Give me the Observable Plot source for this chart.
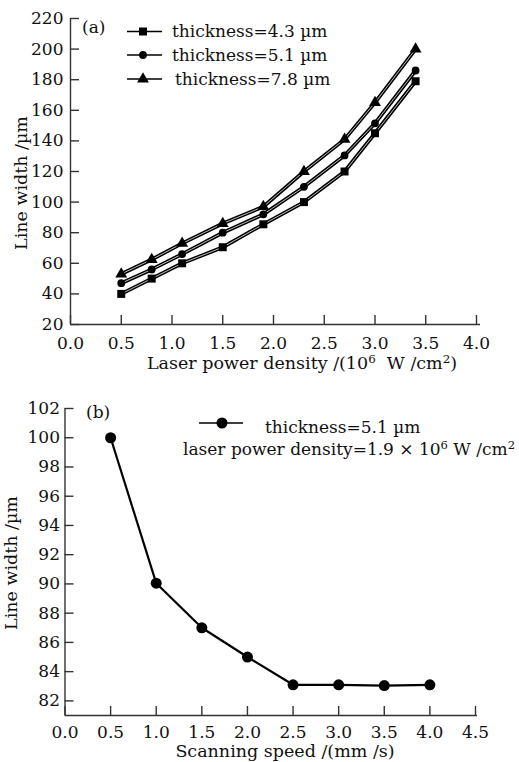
<!DOCTYPE html>
<html><head><meta charset="utf-8">
<script src="https://cdn.jsdelivr.net/npm/d3@7"></script>
<script src="https://cdn.jsdelivr.net/npm/@observablehq/plot@0.6"></script>
<style>body{margin:0;background:#fff;} svg{display:block;}</style>
</head><body><div id="root"></div>
<script>
// ---- Data (a) ----
const powerDensity = [0.5, 0.8, 1.1, 1.5, 1.9, 2.3, 2.7, 3.0, 3.4];
const width43 = [40, 50, 60, 70.5, 85.5, 100, 120, 145, 179];
const width51 = [47, 56, 66, 80, 92, 110, 130.5, 151.5, 186];
const width78 = [53, 62.5, 73, 86, 97, 120, 141, 165, 200];
const seriesLabels = ["thickness=4.3 µm", "thickness=5.1 µm", "thickness=7.8 µm"];
const seriesSymbols = ["square", "circle", "triangle"];
const xTicksA = [0, 0.5, 1, 1.5, 2, 2.5, 3, 3.5, 4];
const yTicksA = [20, 40, 60, 80, 100, 120, 140, 160, 180, 200, 220];

// ---- Data (b) ----
const scanSpeed = [0.5, 1.0, 1.5, 2.0, 2.5, 3.0, 3.5, 4.0];
const widthB = [100, 90.05, 87, 85, 83.1, 83.1, 83.05, 83.1];
const xTicksB = [0, 0.5, 1, 1.5, 2, 2.5, 3, 3.5, 4, 4.5];
const yTicksB = [82, 84, 86, 88, 90, 92, 94, 96, 98, 100, 102];

const FONT = "DejaVu Serif";
const FS = 17;
const W = 519;
const AX = "#333";

// ---------- Chart (a) ----------
const A = {h: 375, ml: 70, mr: 43, mt: 18, mb: 51};
const fhA = A.h - A.mt - A.mb, fwA = W - A.ml - A.mr;
const allA = [width43, width51, width78];
const rowsA = [];
seriesLabels.forEach((s, i) => powerDensity.forEach((x, j) => rowsA.push({series: s, x, y: allA[i][j]})));
const symR = {square: 4.5, circle: 3.9, triangle: 4.4};

const plotA = Plot.plot({
  width: W, height: A.h,
  marginLeft: A.ml, marginRight: A.mr, marginTop: A.mt, marginBottom: A.mb,
  x: {domain: [0, 4]},
  y: {domain: [20, 220]},
  symbol: {domain: seriesLabels, range: seriesSymbols},
  style: {fontFamily: FONT, fontSize: FS + "px", color: "#111", background: "#fff"},
  marks: [
    Plot.axisX({ticks: xTicksA, tickSize: 0, tickPadding: 12, tickFormat: d3.format(".1f"), label: null}),
    Plot.axisY({ticks: yTicksA, tickSize: 0, tickPadding: 7, label: null}),
    Plot.tickX(xTicksA, {x: d => d, insetTop: fhA - 9, stroke: AX, strokeWidth: 1.4}),
    Plot.tickY(yTicksA, {y: d => d, insetRight: fwA - 9, stroke: AX, strokeWidth: 1.4}),
    Plot.ruleY([20], {insetRight: -4, stroke: AX, strokeWidth: 1.4}),
    Plot.ruleX([0], {stroke: AX, strokeWidth: 1.4}),
    Plot.line(rowsA, {x: "x", y: "y", z: "series", stroke: "#000", strokeWidth: 3.8}),
    Plot.line(rowsA, {x: "x", y: "y", z: "series", stroke: "#bbb", strokeWidth: 1}),
    ...seriesLabels.map((s, i) => Plot.dot(rowsA, {
      filter: d => d.series === s, x: "x", y: "y", symbol: "series",
      r: symR[seriesSymbols[i]], fill: "#000", stroke: "none"
    }))
  ]
});

// ---------- Chart (b) ----------
const B = {h: 387, ml: 64.5, mr: 44, mt: 33, mb: 47};
const fhB = B.h - B.mt - B.mb, fwB = W - B.ml - B.mr;
const rowsB = scanSpeed.map((x, i) => ({x, y: widthB[i]}));

const plotB = Plot.plot({
  width: W, height: B.h,
  marginLeft: B.ml, marginRight: B.mr, marginTop: B.mt, marginBottom: B.mb,
  x: {domain: [0, 4.5]},
  y: {domain: [81, 102]},
  style: {fontFamily: FONT, fontSize: FS + "px", color: "#111", background: "#fff"},
  marks: [
    Plot.axisX({ticks: xTicksB, tickSize: 0, tickPadding: 10, tickFormat: d3.format(".1f"), label: null}),
    Plot.axisY({ticks: yTicksB, tickSize: 0, tickPadding: 5, label: null}),
    Plot.tickX(xTicksB, {x: d => d, insetTop: fhB - 9, stroke: AX, strokeWidth: 1.4}),
    Plot.tickY(yTicksB, {y: d => d, insetRight: fwB - 9, stroke: AX, strokeWidth: 1.4}),
    Plot.ruleY([81], {insetRight: -2, stroke: AX, strokeWidth: 1.4}),
    Plot.ruleX([0], {stroke: AX, strokeWidth: 1.4}),
    Plot.line(rowsB, {x: "x", y: "y", stroke: "#000", strokeWidth: 2.2}),
    Plot.dot(rowsB, {x: "x", y: "y", r: 5.5, fill: "#000", stroke: "none"})
  ]
});

// ---------- Annotations (legend, panel tags, axis titles) ----------
function sym(type, r) {
  const t = {square: d3.symbolSquare, circle: d3.symbolCircle, triangle: d3.symbolTriangle}[type];
  return d3.symbol().type(t).size(Math.PI * r * r)();
}
function addText(g, x, y, parts, anchor = "start", size = FS) {
  const t = g.append("text").attr("x", x).attr("y", y).attr("text-anchor", anchor)
    .attr("font-family", FONT).attr("font-size", size).attr("fill", "#111");
  parts.forEach(p => {
    if (typeof p === "string") t.append("tspan").text(p);
    else t.append("tspan").attr("dy", -6).attr("font-size", size * 0.68).text(p.sup)
      .clone().attr("dy", 6).attr("font-size", size).text(p.after || "");
  });
  return t;
}

const gA = d3.select(plotA).append("g");
addText(gA, 82, 33, ["(a)"]);
const legRowY = [31.5, 55, 79], legTextY = [37, 61, 85], legTextX = [172, 172, 175];
seriesLabels.forEach((s, i) => {
  gA.append("line").attr("x1", 127).attr("x2", 162).attr("y1", legRowY[i]).attr("y2", legRowY[i])
    .attr("stroke", "#000").attr("stroke-width", 1.6);
  gA.append("path").attr("d", sym(seriesSymbols[i], symR[seriesSymbols[i]]))
    .attr("transform", `translate(143,${legRowY[i]})`).attr("fill", "#000");
  addText(gA, legTextX[i], legTextY[i], [s]);
});
addText(gA, 302, 369, ["Laser power density /(10", {sup: "6", after: "  W /cm"}, {sup: "2", after: ")"}], "middle", 17.5);
addText(gA, 0, 0, ["Line width /µm"], "middle", 17.5).attr("transform", "translate(27,183) rotate(-90)");

const gB = d3.select(plotB).append("g");
addText(gB, 86, 43, ["(b)"]);
gB.append("line").attr("x1", 199).attr("x2", 243).attr("y1", 48).attr("y2", 48)
  .attr("stroke", "#000").attr("stroke-width", 1.6);
gB.append("circle").attr("cx", 222).attr("cy", 48).attr("r", 5.5).attr("fill", "#000");
addText(gB, 265, 58, ["thickness=5.1 µm"]);
addText(gB, 183, 80, ["laser power density=1.9 × 10", {sup: "6", after: " W /cm"}, {sup: "2", after: ""}]);
addText(gB, 285, 382, ["Scanning speed /(mm /s)"], "middle", 17.5);
addText(gB, 0, 0, ["Line width /µm"], "middle", 17.5).attr("transform", "translate(17,188) rotate(-90)");

const root = document.getElementById("root");
root.appendChild(plotA);
root.appendChild(plotB);
</script>
</body></html>
